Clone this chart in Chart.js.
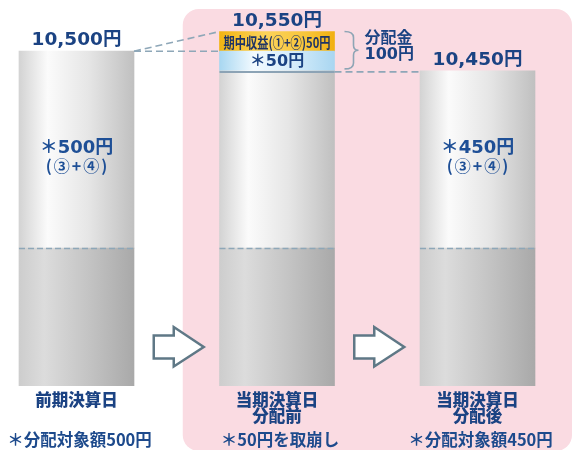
<!DOCTYPE html>
<html>
<head>
<meta charset="utf-8">
<script src="https://cdn.jsdelivr.net/npm/chart.js@4/dist/chart.umd.min.js"></script>
<style>
html,body{margin:0;padding:0;background:#ffffff;}
#wrap{width:573px;height:450px;position:relative;}
</style>
</head>
<body>
<div id="wrap"><canvas id="c"></canvas></div>
<script>
// ---- data ----
const categories = [['前期決算日'], ['当期決算日', '分配前'], ['当期決算日', '分配後']];
const baseValues = [10000, 10000, 10000];          // lower (principal) part
const distributableValues = [500, 450, 450];       // ③+④ part
const drawdownValues = [null, 50, null];           // ＊50円 taken from ③+④
const incomeValues = [null, 50, null];             // 期中収益(①+②)
const totalLabels = ['10,500円', '10,550円', '10,450円'];
const innerLabels = [['＊500円', '(③+④)'], null, ['＊450円', '(③+④)']];
const noteLabels = ['＊分配対象額500円', '＊50円を取崩し', '＊分配対象額450円'];
const distributionLabel = ['分配金', '100円'];
const incomeLabel = '期中収益(①+②)50円';
const drawdownLabel = '＊50円';

// ---- style ----
const FONT = '"Noto Sans CJK JP", "Noto Sans", sans-serif';
const FONT_NUM = '"DejaVu Sans", "Noto Sans CJK JP", sans-serif';
const NAVY = '#1b4383';
const BLUE = '#1e4f96';
const DASH = '#8ea7b8';
const BAR_W = 115;

function grad(ctx, stops, fallback) {
  const chart = ctx.chart;
  if (!chart.chartArea) return fallback;
  const cx = chart.scales.x.getPixelForValue(ctx.dataIndex);
  const g = chart.ctx.createLinearGradient(cx - BAR_W / 2, 0, cx + BAR_W / 2, 0);
  stops.forEach(s => g.addColorStop(s[0], s[1]));
  return g;
}

const clipBottom = {left: false, right: false, top: false, bottom: 0};

const decor = {
  id: 'decor',
  beforeDraw(chart) {
    const ctx = chart.ctx, xS = chart.scales.x;
    const left = xS.getPixelForValue(0.5) + 6;
    const right = chart.width - 1, top = 9, bottom = chart.height + 1, r = 16;
    ctx.save();
    ctx.fillStyle = '#fadbe2';
    ctx.beginPath();
    ctx.roundRect(left, top, right - left, bottom - top, r);
    ctx.fill();
    ctx.restore();
  },
  afterDatasetsDraw(chart) {
    const ctx = chart.ctx, xS = chart.scales.x, yS = chart.scales.y;
    const half = BAR_W / 2;
    const cxs = categories.map((_, i) => xS.getPixelForValue(i));
    const totals = categories.map((_, i) => baseValues[i] + distributableValues[i] + (drawdownValues[i] || 0) + (incomeValues[i] || 0));
    ctx.save();

    // dashed line inside bars at top of base part
    ctx.strokeStyle = DASH; ctx.lineWidth = 1.5; ctx.setLineDash([6, 3]);
    cxs.forEach((cx, i) => {
      const y = Math.round(yS.getPixelForValue(baseValues[i])) + 0.5;
      ctx.beginPath(); ctx.moveTo(cx - half, y); ctx.lineTo(cx + half, y); ctx.stroke();
    });

    // connectors
    ctx.setLineDash([7, 4]); ctx.lineWidth = 1.6;
    const y0 = yS.getPixelForValue(totals[0]);
    const y1 = yS.getPixelForValue(totals[1]);
    const y2 = yS.getPixelForValue(baseValues[1] + distributableValues[1]);
    ctx.beginPath(); ctx.moveTo(cxs[0] + half, y0); ctx.lineTo(cxs[1] - half, y1); ctx.stroke();
    ctx.beginPath(); ctx.moveTo(cxs[0] + half, y0); ctx.lineTo(cxs[1] - half, y0); ctx.stroke();
    ctx.beginPath(); ctx.moveTo(cxs[1] + half, y2 + 1); ctx.lineTo(cxs[2] - half, y2 + 1); ctx.stroke();
    ctx.setLineDash([]);

    // line under drawdown box
    ctx.strokeStyle = '#8ca3b5'; ctx.lineWidth = 2;
    ctx.beginPath(); ctx.moveTo(cxs[1] - half, y2 + 1); ctx.lineTo(cxs[1] + half, y2 + 1); ctx.stroke();

    // brace
    const bx = cxs[1] + half + 10, bTop = y1, bBot = y2 - 2, bMid = (bTop + bBot) / 2;
    ctx.strokeStyle = '#8ea5b5'; ctx.lineWidth = 1.6;
    ctx.beginPath();
    ctx.moveTo(bx, bTop);
    ctx.quadraticCurveTo(bx + 9, bTop, bx + 9, bTop + 6);
    ctx.lineTo(bx + 9, bMid - 5);
    ctx.quadraticCurveTo(bx + 9, bMid, bx + 14, bMid);
    ctx.quadraticCurveTo(bx + 9, bMid, bx + 9, bMid + 5);
    ctx.lineTo(bx + 9, bBot - 6);
    ctx.quadraticCurveTo(bx + 9, bBot, bx, bBot);
    ctx.stroke();

    // distribution label
    ctx.fillStyle = NAVY; ctx.textAlign = 'left'; ctx.textBaseline = 'middle';
    ctx.font = 'bold 16px ' + FONT;
    ctx.fillText(distributionLabel[0], bx + 20, bMid - 13);
    ctx.font = 'bold 16px ' + FONT_NUM;
    ctx.fillText(distributionLabel[1], bx + 20, bMid + 5);

    // totals above bars
    ctx.textAlign = 'center'; ctx.textBaseline = 'alphabetic';
    ctx.font = 'bold 18.5px ' + FONT_NUM;
    cxs.forEach((cx, i) => {
      ctx.fillText(totalLabels[i], cx, yS.getPixelForValue(totals[i]) - 6);
    });

    // inner labels
    const yMid = yS.getPixelForValue(baseValues[0] + distributableValues[0] / 2);
    ctx.fillStyle = BLUE; ctx.textBaseline = 'middle';
    innerLabels.forEach((lab, i) => {
      if (!lab) return;
      ctx.font = 'bold 18px ' + FONT_NUM;
      ctx.fillText(lab[0], cxs[i], yMid - 1);
      ctx.font = 'bold 16px ' + FONT;
      ctx.letterSpacing = '2px';
      ctx.fillText(lab[1], cxs[i] + 1, yMid + 16);
      ctx.letterSpacing = '0px';
    });

    // income box label
    const yInc = (yS.getPixelForValue(totals[1]) + yS.getPixelForValue(totals[1] - incomeValues[1])) / 2;
    ctx.fillStyle = '#1f3464';
    ctx.font = 'bold 14.5px ' + FONT;
    ctx.fillText(incomeLabel, cxs[1], yInc + 1, BAR_W - 8);
    // drawdown box label
    const yDd = (yS.getPixelForValue(totals[1] - incomeValues[1]) + y2) / 2;
    ctx.fillStyle = NAVY;
    ctx.font = 'bold 16px ' + FONT_NUM;
    ctx.fillText(drawdownLabel, cxs[1], yDd + 1);

    // arrows
    const bottom = chart.chartArea.bottom;
    [0.5, 1.5].forEach(p => {
      const ax = xS.getPixelForValue(p) - 23, ay = bottom - 39;
      ctx.beginPath();
      ctx.moveTo(ax, ay - 11.5);
      ctx.lineTo(ax + 20, ay - 11.5);
      ctx.lineTo(ax + 20, ay - 20);
      ctx.lineTo(ax + 50, ay);
      ctx.lineTo(ax + 20, ay + 19.5);
      ctx.lineTo(ax + 20, ay + 11.5);
      ctx.lineTo(ax, ay + 11.5);
      ctx.closePath();
      ctx.fillStyle = '#ffffff'; ctx.fill();
      ctx.strokeStyle = '#5f7886'; ctx.lineWidth = 2.5; ctx.lineJoin = 'miter';
      ctx.stroke();
    });

    // category labels
    ctx.fillStyle = NAVY; ctx.textAlign = 'center'; ctx.textBaseline = 'middle';
    ctx.font = '900 16.5px ' + FONT;
    chart.data.labels.forEach((lab, i) => {
      lab.forEach((line, k) => ctx.fillText(line, cxs[i], bottom + 14 + k * 16));
    });
    // notes
    ctx.font = 'bold 16.5px ' + FONT;
    ctx.fillStyle = '#1d4a8c';
    noteLabels.forEach((t, i) => ctx.fillText(t, cxs[i] + 3, bottom + 54));

    ctx.restore();
  }
};

new Chart(document.getElementById('c'), {
  type: 'bar',
  data: {
    labels: categories,
    datasets: [
      {
        label: 'base', data: baseValues, clip: clipBottom,
        backgroundColor: c => grad(c, [[0, '#cdcdcd'], [0.22, '#dcdcdc'], [0.6, '#c4c4c4'], [1, '#a9a9a9']], '#c4c4c4')
      },
      {
        label: 'distributable', data: distributableValues, clip: clipBottom,
        backgroundColor: c => grad(c, [[0, '#d3d3d3'], [0.25, '#fbfbfb'], [0.6, '#e6e6e6'], [1, '#c0c0c0']], '#e6e6e6')
      },
      {
        label: 'drawdown', data: drawdownValues, clip: clipBottom,
        backgroundColor: c => grad(c, [[0, '#a8d7f1'], [0.3, '#f2faff'], [0.65, '#d4ecfa'], [1, '#a9d6f1']], '#cfe9f8')
      },
      {
        label: 'income', data: incomeValues, clip: clipBottom,
        backgroundColor: c => grad(c, [[0, '#f2b412'], [0.4, '#fbd35a'], [0.75, '#f8c53a'], [1, '#f1b010']], '#f7c53a')
      }
    ]
  },
  options: {
    responsive: true,
    maintainAspectRatio: false,
    animation: false,
    layout: {padding: {left: 76.5, right: 95.5, top: 0, bottom: 64}},
    datasets: {bar: {barThickness: BAR_W, borderWidth: 0, borderSkipped: false}},
    plugins: {legend: {display: false}, tooltip: {enabled: false}},
    scales: {
      x: {type: 'category', offset: false, stacked: true, display: false},
      y: {stacked: true, display: false, min: 9650, max: 10630}
    }
  },
  plugins: [decor]
});
</script>
</body>
</html>
